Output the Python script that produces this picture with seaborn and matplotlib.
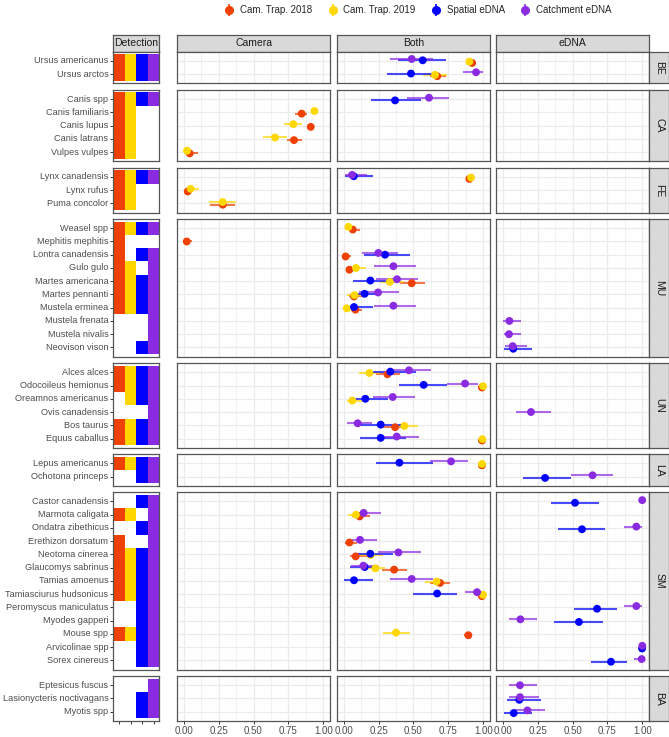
import numpy as np
import pandas as pd
import matplotlib
matplotlib.use("Agg")
import matplotlib.pyplot as plt
import seaborn as sns
from matplotlib.colors import ListedColormap
from matplotlib.lines import Line2D
from matplotlib.legend_handler import HandlerTuple

# species per taxonomic group (top to bottom)
groups = ["BE", "CA", "FE", "MU", "UN", "LA", "SM", "BA"]
group_species = {
    "BE": ["Ursus americanus", "Ursus arctos"],
    "CA": ["Canis spp", "Canis familiaris", "Canis lupus", "Canis latrans", "Vulpes vulpes"],
    "FE": ["Lynx canadensis", "Lynx rufus", "Puma concolor"],
    "MU": ["Weasel spp", "Mephitis mephitis", "Lontra canadensis", "Gulo gulo",
           "Martes americana", "Martes pennanti", "Mustela erminea", "Mustela frenata",
           "Mustela nivalis", "Neovison vison"],
    "UN": ["Alces alces", "Odocoileus hemionus", "Oreamnos americanus", "Ovis canadensis",
           "Bos taurus", "Equus caballus"],
    "LA": ["Lepus americanus", "Ochotona princeps"],
    "SM": ["Castor canadensis", "Marmota caligata", "Ondatra zibethicus", "Erethizon dorsatum",
           "Neotoma cinerea", "Glaucomys sabrinus", "Tamias amoenus", "Tamiasciurus hudsonicus",
           "Peromyscus maniculatus", "Myodes gapperi", "Mouse spp", "Arvicolinae spp",
           "Sorex cinereus"],
    "BA": ["Eptesicus fuscus", "Lasionycteris noctivagans", "Myotis spp"],
}

# detection flags: Cam 2018, Cam 2019, Spatial eDNA, Catchment eDNA
group_detect = {
    "BE": ["1111", "1111"],
    "CA": ["1111", "1100", "1100", "1100", "1100"],
    "FE": ["1111", "1100", "1100"],
    "MU": ["1111", "1000", "1011", "1101", "1111", "1111", "1111", "0001", "0001", "0011"],
    "UN": ["1111", "1111", "0111", "0001", "1111", "1111"],
    "LA": ["1111", "0011"],
    "SM": ["0011", "1101", "0011", "1001", "1111", "1111", "1111", "1111",
           "0011", "0011", "1111", "0011", "0011"],
    "BA": ["0001", "0011", "0011"],
}

# occupancy estimates: (species, estimate, lower, upper)
cam2018 = [
    ("Ursus americanus", 0.92, 0.89, 0.95), ("Ursus arctos", 0.67, 0.62, 0.73),
    ("Canis familiaris", 0.845, 0.80, 0.88), ("Canis lupus", 0.91, 0.89, 0.93),
    ("Canis latrans", 0.79, 0.74, 0.845), ("Vulpes vulpes", 0.043, 0.01, 0.10),
    ("Lynx canadensis", 0.90, 0.88, 0.92), ("Lynx rufus", 0.029, 0.01, 0.06),
    ("Puma concolor", 0.28, 0.19, 0.37), ("Weasel spp", 0.065, 0.04, 0.12),
    ("Mephitis mephitis", 0.022, 0.01, 0.057), ("Lontra canadensis", 0.014, 0.0, 0.05),
    ("Gulo gulo", 0.041, 0.02, 0.07), ("Martes americana", 0.487, 0.40, 0.58),
    ("Martes pennanti", 0.074, 0.04, 0.14), ("Mustela erminea", 0.084, 0.05, 0.13),
    ("Alces alces", 0.313, 0.23, 0.40), ("Odocoileus hemionus", 0.99, 0.98, 1.0),
    ("Bos taurus", 0.368, 0.28, 0.456), ("Equus caballus", 0.99, 0.98, 1.0),
    ("Lepus americanus", 0.99, 0.98, 1.0), ("Marmota caligata", 0.115, 0.06, 0.19),
    ("Erethizon dorsatum", 0.041, 0.01, 0.093), ("Neotoma cinerea", 0.086, 0.045, 0.177),
    ("Glaucomys sabrinus", 0.361, 0.272, 0.451), ("Tamias amoenus", 0.69, 0.618, 0.762),
    ("Tamiasciurus hudsonicus", 0.99, 0.98, 1.0), ("Mouse spp", 0.893, 0.86, 0.92),
]
cam2019 = [
    ("Ursus americanus", 0.90, 0.88, 0.92), ("Ursus arctos", 0.654, 0.57, 0.74),
    ("Canis familiaris", 0.936, 0.92, 0.95), ("Canis lupus", 0.785, 0.72, 0.845),
    ("Canis latrans", 0.654, 0.57, 0.74), ("Vulpes vulpes", 0.024, 0.0, 0.06),
    ("Lynx canadensis", 0.912, 0.89, 0.93), ("Lynx rufus", 0.05, 0.02, 0.112),
    ("Puma concolor", 0.279, 0.184, 0.375), ("Weasel spp", 0.034, 0.01, 0.06),
    ("Gulo gulo", 0.088, 0.057, 0.16), ("Martes americana", 0.33, 0.26, 0.427),
    ("Martes pennanti", 0.077, 0.026, 0.165), ("Mustela erminea", 0.022, 0.0, 0.05),
    ("Alces alces", 0.184, 0.112, 0.26), ("Odocoileus hemionus", 0.998, 0.99, 1.0),
    ("Oreamnos americanus", 0.062, 0.022, 0.129), ("Bos taurus", 0.435, 0.356, 0.535),
    ("Equus caballus", 0.993, 0.985, 1.0), ("Lepus americanus", 0.99, 0.98, 1.0),
    ("Marmota caligata", 0.088, 0.034, 0.141), ("Neotoma cinerea", 0.193, 0.117, 0.284),
    ("Glaucomys sabrinus", 0.227, 0.165, 0.296), ("Tamias amoenus", 0.666, 0.583, 0.726),
    ("Tamiasciurus hudsonicus", 0.998, 0.99, 1.0), ("Mouse spp", 0.375, 0.279, 0.475),
]
spatial = [
    ("Ursus americanus", 0.566, 0.392, 0.733), ("Ursus arctos", 0.482, 0.313, 0.654),
    ("Canis spp", 0.368, 0.196, 0.552), ("Lynx canadensis", 0.072, 0.01, 0.208),
    ("Lontra canadensis", 0.296, 0.148, 0.478), ("Martes americana", 0.191, 0.065, 0.32),
    ("Martes pennanti", 0.15, 0.05, 0.26), ("Mustela erminea", 0.074, 0.034, 0.213),
    ("Neovison vison", 0.074, 0.01, 0.21), ("Alces alces", 0.334, 0.208, 0.518),
    ("Odocoileus hemionus", 0.573, 0.396, 0.738), ("Oreamnos americanus", 0.155, 0.05, 0.32),
    ("Bos taurus", 0.265, 0.117, 0.416), ("Equus caballus", 0.265, 0.117, 0.447),
    ("Lepus americanus", 0.399, 0.23, 0.637), ("Ochotona princeps", 0.302, 0.146, 0.486),
    ("Castor canadensis", 0.517, 0.342, 0.686), ("Ondatra zibethicus", 0.567, 0.397, 0.732),
    ("Neotoma cinerea", 0.191, 0.07, 0.356), ("Glaucomys sabrinus", 0.15, 0.045, 0.25),
    ("Tamias amoenus", 0.074, 0.005, 0.208), ("Tamiasciurus hudsonicus", 0.669, 0.499, 0.81),
    ("Peromyscus maniculatus", 0.675, 0.512, 0.82), ("Myodes gapperi", 0.545, 0.366, 0.715),
    ("Arvicolinae spp", 0.998, 0.99, 1.0), ("Sorex cinereus", 0.775, 0.631, 0.892),
    ("Lasionycteris noctivagans", 0.117, 0.027, 0.273), ("Myotis spp", 0.077, 0.01, 0.206),
]
catchment = [
    ("Ursus americanus", 0.487, 0.332, 0.642), ("Ursus arctos", 0.948, 0.857, 0.996),
    ("Canis spp", 0.611, 0.456, 0.752), ("Lynx canadensis", 0.06, 0.01, 0.165),
    ("Lontra canadensis", 0.248, 0.13, 0.39), ("Gulo gulo", 0.356, 0.215, 0.516),
    ("Martes americana", 0.382, 0.234, 0.535), ("Martes pennanti", 0.246, 0.112, 0.394),
    ("Mustela erminea", 0.356, 0.215, 0.516), ("Mustela frenata", 0.046, 0.003, 0.13),
    ("Mustela nivalis", 0.043, 0.01, 0.13), ("Neovison vison", 0.07, 0.015, 0.17),
    ("Alces alces", 0.468, 0.332, 0.623), ("Odocoileus hemionus", 0.869, 0.738, 0.96),
    ("Oreamnos americanus", 0.351, 0.213, 0.511), ("Ovis canadensis", 0.201, 0.091, 0.342),
    ("Bos taurus", 0.10, 0.026, 0.20), ("Equus caballus", 0.38, 0.26, 0.54),
    ("Lepus americanus", 0.769, 0.618, 0.888), ("Ochotona princeps", 0.643, 0.488, 0.787),
    ("Castor canadensis", 0.999, 0.99, 1.0), ("Marmota caligata", 0.143, 0.069, 0.265),
    ("Ondatra zibethicus", 0.957, 0.868, 0.995), ("Erethizon dorsatum", 0.117, 0.057, 0.237),
    ("Neotoma cinerea", 0.392, 0.249, 0.552), ("Glaucomys sabrinus", 0.141, 0.05, 0.248),
    ("Tamias amoenus", 0.487, 0.332, 0.642), ("Tamiasciurus hudsonicus", 0.955, 0.869, 0.996),
    ("Peromyscus maniculatus", 0.957, 0.87, 0.995), ("Myodes gapperi", 0.125, 0.043, 0.242),
    ("Arvicolinae spp", 1.0, 0.99, 1.0), ("Sorex cinereus", 0.995, 0.94, 1.0),
    ("Eptesicus fuscus", 0.122, 0.043, 0.242), ("Lasionycteris noctivagans", 0.122, 0.043, 0.26),
    ("Myotis spp", 0.175, 0.082, 0.301),
]

series_names = ["Cam. Trap. 2018", "Cam. Trap. 2019", "Spatial eDNA", "Catchment eDNA"]
series_colors = ["#EE4000", "#FFD700", "#0000FF", "#8A2BE2"]
panels = ["Camera", "Both", "eDNA"]

sns.set_style("white")
plt.rcParams["font.family"] = ["Liberation Sans", "DejaVu Sans"]

# long table of estimates
rows = []
for name, data in zip(series_names, [cam2018, cam2019, spatial, catchment]):
    for sp, est, lo, hi in data:
        rows.append({"species": sp, "series": name, "est": est, "lo": lo, "hi": hi})
df = pd.DataFrame(rows)

# species -> group, index, panel
info = {}
for g in groups:
    for i, (sp, d) in enumerate(zip(group_species[g], group_detect[g])):
        cam = d[0] == "1" or d[1] == "1"
        edna = d[2] == "1" or d[3] == "1"
        panel = "Both" if (cam and edna) else ("Camera" if cam else "eDNA")
        info[sp] = (g, i, panel)
df["group"] = df["species"].map(lambda s: info[s][0])
df["idx"] = df["species"].map(lambda s: info[s][1])
df["panel"] = df["species"].map(lambda s: info[s][2])

# vertical dodge: catchment on top, then spatial, 2019, 2018
dodge_order = ["Catchment eDNA", "Spatial eDNA", "Cam. Trap. 2019", "Cam. Trap. 2018"]
df["ypos"] = 0.0
for sp, sub in df.groupby("species"):
    present = [s for s in dodge_order if s in set(sub["series"])]
    k = len(present)
    for j, s in enumerate(present):
        off = -0.2 + (j + 0.5) * 0.4 / k
        df.loc[(df["species"] == sp) & (df["series"] == s), "ypos"] = info[sp][1] + off

W, H = 669, 737
fig = plt.figure(figsize=(W / 100, H / 100), dpi=100)


def px_axes(x0, y0, x1, y1):
    return fig.add_axes([x0 / W, 1 - y1 / H, (x1 - x0) / W, (y1 - y0) / H])


border = "#555555"
strip_fill = "#D9D9D9"


def strip(x0, y0, x1, y1, text, rot=0):
    ax = px_axes(x0, y0, x1, y1)
    ax.set_facecolor(strip_fill)
    ax.set_xticks([])
    ax.set_yticks([])
    for sp in ax.spines.values():
        sp.set_color(border)
        sp.set_linewidth(0.9)
    ax.text(0.5, 0.5, text, ha="center", va="center", rotation=rot,
            fontsize=7.5, color="#1A1A1A", transform=ax.transAxes)


det_x = (113.3, 159.3)
col_x = [(176.7, 330.3), (336.7, 490.3), (496.0, 649.3)]
strip_right = 669.0
top, bottom, gap = 51.7, 721.0, 6.3
units = [len(group_species[g]) + 0.4 for g in groups]
unit_px = (bottom - top - gap * (len(groups) - 1)) / sum(units)

strip(det_x[0], 35.0, det_x[1], top, "Detection")
for (x0, x1), p in zip(col_x, panels):
    strip(x0, 35.0, x1, top, p)

det_cmap = ListedColormap(series_colors)
y = top
for gi, g in enumerate(groups):
    n = len(group_species[g])
    h = units[gi] * unit_px
    last = gi == len(groups) - 1

    # detection tiles
    mat = np.array([[(c + 1) if d[c] == "1" else np.nan for c in range(4)]
                    for d in group_detect[g]])
    axd = px_axes(det_x[0], y, det_x[1], y + h)
    sns.heatmap(pd.DataFrame(mat, index=group_species[g]), cmap=det_cmap, vmin=0.5,
                vmax=4.5, cbar=False, ax=axd, linewidths=0)
    axd.set_xlim(0, 4)
    axd.set_ylim(n + 0.2, -0.2)
    axd.set_yticks(np.arange(n) + 0.5)
    axd.set_yticklabels(group_species[g], rotation=0, fontsize=6.6, color="#4D4D4D")
    axd.set_xticks(np.arange(4) + 0.5)
    axd.set_xticklabels([])
    axd.set_ylabel("")
    axd.tick_params(axis="y", length=2.5, width=0.7, color="#333333", pad=1.0, left=True)
    axd.tick_params(axis="x", length=2.5 if last else 0, width=0.7, color="#333333",
                    bottom=last)
    for sp in axd.spines.values():
        sp.set_visible(True)
        sp.set_color(border)
        sp.set_linewidth(0.9)

    # estimate panels
    for (x0, x1), p in zip(col_x, panels):
        ax = px_axes(x0, y, x1, y + h)
        ax.set_xlim(-0.05, 1.05)
        ax.set_ylim(n - 0.3, -0.7)
        ax.set_xticks([0, 0.25, 0.5, 0.75, 1.0])
        ax.set_xticks([0.125, 0.375, 0.625, 0.875], minor=True)
        ax.set_yticks(np.arange(n))
        ax.set_yticklabels([])
        ax.grid(which="major", color="#EBEBEB", lw=0.9)
        ax.grid(which="minor", axis="x", color="#EBEBEB", lw=0.5)
        ax.set_axisbelow(True)
        ax.tick_params(axis="y", length=0)
        ax.tick_params(axis="x", which="minor", length=0)
        if last:
            ax.set_xticklabels(["0.00", "0.25", "0.50", "0.75", "1.00"], fontsize=7,
                               color="#4D4D4D")
            ax.tick_params(axis="x", length=2.5, width=0.7, color="#333333", pad=1.0,
                           bottom=True)
        else:
            ax.set_xticklabels([])
            ax.tick_params(axis="x", length=0)
        for sp in ax.spines.values():
            sp.set_color(border)
            sp.set_linewidth(0.9)

        sub = df[(df["group"] == g) & (df["panel"] == p)]
        for name, c in zip(series_names, series_colors):
            s = sub[sub["series"] == name]
            if len(s):
                ax.hlines(s["ypos"], s["lo"], s["hi"], colors=c, lw=1.5, alpha=0.7,
                          zorder=2)
                sns.scatterplot(data=s, x="est", y="ypos", color=c, s=32,
                                edgecolor="none", linewidth=0, ax=ax, zorder=3,
                                legend=False)
        ax.set_xlabel("")
        ax.set_ylabel("")

    strip(col_x[-1][1], y, strip_right, y + h, g, rot=-90)
    y += h + gap

handles = [(Line2D([], [], color=c, marker="|", markersize=9, mew=1.2, linestyle="None"),
            Line2D([], [], color=c, marker="o", markersize=5.5, linestyle="None"))
           for c in series_colors]
fig.legend(handles, series_names, loc="center", bbox_to_anchor=(418 / W, 1 - 10 / H),
           ncol=4, frameon=False, fontsize=7, handlelength=1.0, columnspacing=1.6,
           handletextpad=0.6, handler_map={tuple: HandlerTuple(ndivide=1)})

fig.savefig("out.png", dpi=100)
